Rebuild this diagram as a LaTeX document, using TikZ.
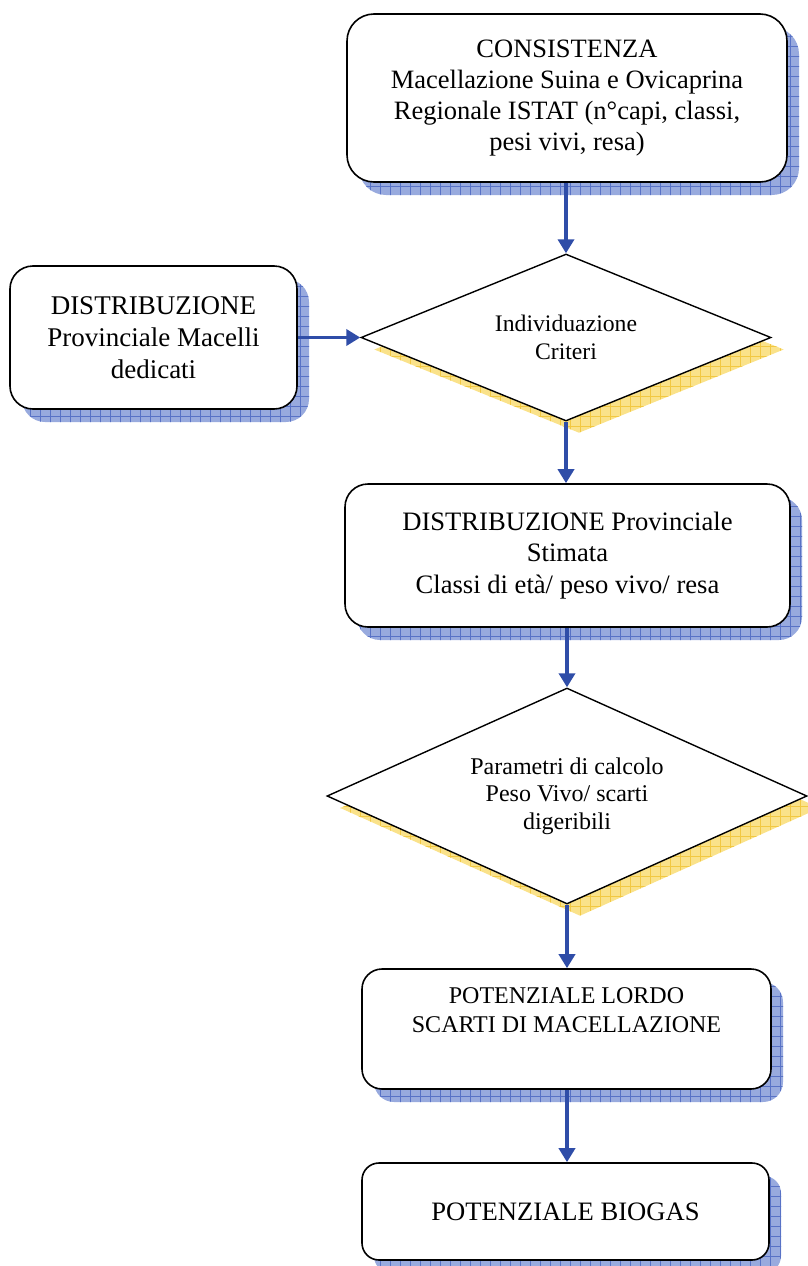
\documentclass[tikz,border=0pt]{standalone}
\usepackage{fontspec}
\setmainfont{Liberation Serif}
\usetikzlibrary{shapes.geometric,shadows,patterns.meta,arrows.meta}
\definecolor{shadeblue}{RGB}{152,170,222}
\definecolor{gridblue}{RGB}{88,114,198}
\definecolor{shadeyellow}{RGB}{250,226,138}
\definecolor{gridyellow}{RGB}{242,200,66}
\definecolor{arrowblue}{RGB}{47,77,168}
\begin{document}
\begin{tikzpicture}[
x=1pt, y=-1pt,
blueshadow/.style={
general shadow={draw=none, shadow xshift=12pt, shadow yshift=-13pt, fill=shadeblue},
general shadow={draw=none, shadow xshift=12pt, shadow yshift=-13pt,
pattern={Hatch[angle=0,distance=10pt,line width=0.8pt]}, pattern color=gridblue}
},
yellowshadow/.style={
general shadow={draw=none, shadow xshift=13pt, shadow yshift=-12pt, fill=shadeyellow},
general shadow={draw=none, shadow xshift=13pt, shadow yshift=-12pt,
pattern={Hatch[angle=0,distance=10pt,line width=0.8pt]}, pattern color=gridyellow}
},
box/.style={rectangle, draw, line width=1.6pt, fill=white, align=center, inner sep=0pt, blueshadow},
decision/.style={diamond, draw, line width=1.4pt, fill=white, align=center, inner sep=0pt, yellowshadow},
link/.style={draw=arrowblue, line width=3.5pt, -{Triangle[length=14pt,width=16pt]}}
]
\useasboundingbox (0,0) rectangle (808,1266);
\node[box, minimum width=440pt, minimum height=168pt, rounded corners=27pt,
font=\fontsize{26.5}{31}\selectfont] (consistenza) at (567,98)
{CONSISTENZA\\Macellazione Suina e Ovicaprina\\Regionale ISTAT (n°capi, classi,\\pesi vivi, resa)};
\node[box, minimum width=287pt, minimum height=143pt, rounded corners=23pt,
font=\fontsize{27}{32}\selectfont] (macelli) at (153.5,337.5)
{DISTRIBUZIONE\\Provinciale Macelli\\dedicati};
\node[decision, shape aspect=2.455, minimum width=410pt, minimum height=167pt,
font=\fontsize{23.7}{28}\selectfont] (criteri) at (566,337.5)
{Individuazione\\Criteri};
\node[box, minimum width=445pt, minimum height=143pt, rounded corners=23pt,
font=\fontsize{26.6}{31.5}\selectfont] (stimata) at (567.5,555.5)
{DISTRIBUZIONE Provinciale\\Stimata\\Classi di età/ peso vivo/ resa};
\node[decision, shape aspect=2.222, minimum width=480pt, minimum height=216pt,
font=\fontsize{24}{27.5}\selectfont] (parametri) at (567,796)
{Parametri di calcolo\\Peso Vivo/ scarti\\digeribili};
\node[box, minimum width=409pt, minimum height=120pt, rounded corners=20pt,
font=\fontsize{24}{29}\selectfont] (lordo) at (566.5,1029)
{POTENZIALE LORDO\\SCARTI DI MACELLAZIONE\\\strut};
\node[box, minimum width=407pt, minimum height=97pt, rounded corners=17pt,
font=\fontsize{26.6}{31}\selectfont] (biogas) at (565.5,1211.5)
{POTENZIALE BIOGAS};
\draw[link] (consistenza.south -| criteri.north) -- (criteri.north);
\draw[link] (macelli.east) -- (criteri.west);
\draw[link] (criteri.south) -- (stimata.north -| criteri.south);
\draw[link] (stimata.south -| parametri.north) -- (parametri.north);
\draw[link] (parametri.south) -- (lordo.north -| parametri.south);
\draw[link] (lordo.south -| parametri.south) -- (biogas.north -| parametri.south);
\end{tikzpicture}
\end{document}
